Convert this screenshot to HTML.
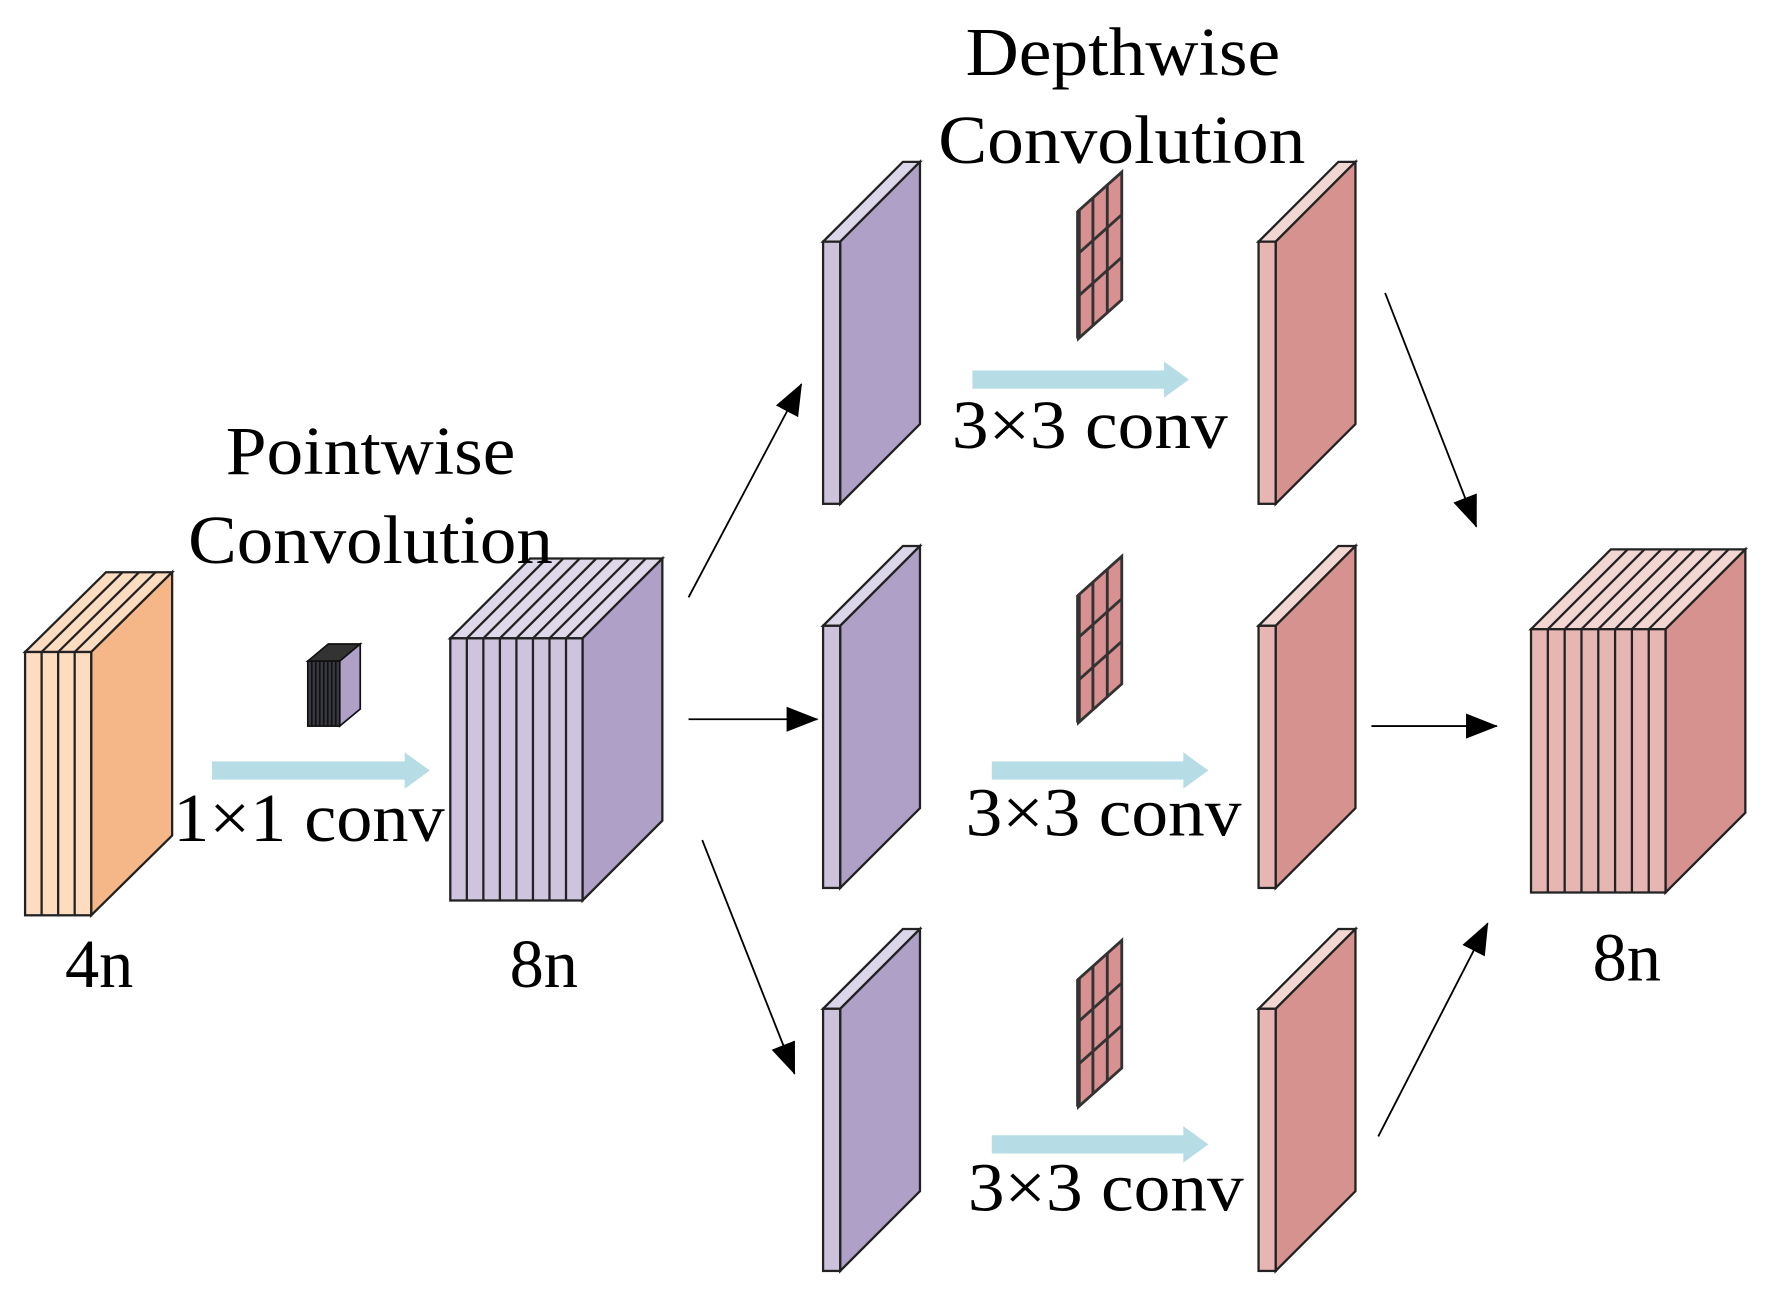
<!DOCTYPE html>
<html><head><meta charset="utf-8"><style>
html,body{margin:0;padding:0;background:#fff;}
svg{display:block;}
text{font-family:"Liberation Serif",serif;fill:#000;}
</style></head><body>
<svg width="1767" height="1304" viewBox="0 0 1550 1144" preserveAspectRatio="none" xmlns="http://www.w3.org/2000/svg">
<defs>
<marker id="ah" viewBox="0 0 10 10" refX="9" refY="5" markerWidth="10" markerHeight="10" markerUnits="userSpaceOnUse" orient="auto">
<path d="M0,0 L10,5 L0,10 z" fill="#000"/></marker>
<marker id="ah2" viewBox="0 0 28 22" refX="27" refY="11" markerWidth="28" markerHeight="22" markerUnits="userSpaceOnUse" orient="auto">
<path d="M0,0 L28,11 L0,22 z" fill="#000"/></marker>
<g id="grid" stroke="#333" stroke-width="2.5" fill="#D89090">
<polygon points="946,185 984,151 984,263 946,297"/>
<line x1="958.7" y1="173.6" x2="958.7" y2="285.6"/>
<line x1="971.3" y1="162.3" x2="971.3" y2="274.3"/>
<line x1="946" y1="222.3" x2="984" y2="188.3"/>
<line x1="946" y1="259.7" x2="984" y2="225.7"/>
<line x1="946" y1="185" x2="946" y2="297" stroke-width="4"/>
</g>
<g id="pslab" stroke="#222" stroke-width="2">
<polygon points="722,212 737,212 807,142 792,142" fill="#DCD6EA"/>
<polygon points="737,212 807,142 807,372 737,442" fill="#AFA0C7"/>
<rect x="722" y="212" width="15" height="230" fill="#CCC2DC"/>
</g>
<g id="rslab" stroke="#222" stroke-width="2">
<polygon points="1104,212 1119,212 1189,142 1174,142" fill="#F2D6D2"/>
<polygon points="1119,212 1189,142 1189,372 1119,442" fill="#D6928E"/>
<rect x="1104" y="212" width="15" height="230" fill="#E7B6B3"/>
</g>
</defs>

<!-- 4n block -->
<g stroke="#222" stroke-width="2">
<polygon points="22,572 80,572 151,502 93,502" fill="#FDDCC0"/>
<polygon points="80,572 151,502 151,733 80,803" fill="#F6B788"/>
<rect x="22" y="572" width="58" height="231" fill="#FDDCC0"/>
<line x1="36.5" y1="572" x2="36.5" y2="803"/><line x1="51" y1="572" x2="51" y2="803"/><line x1="65.5" y1="572" x2="65.5" y2="803"/>
<line x1="36.5" y1="572" x2="107.5" y2="502"/><line x1="51" y1="572" x2="122" y2="502"/><line x1="65.5" y1="572" x2="136.5" y2="502"/>
</g>

<!-- small kernel -->
<g stroke="#111" stroke-width="1.5">
<polygon points="270,580 298,580 316,565 288,565" fill="#333"/>
<polygon points="298,580 316,565 316,622 298,637" fill="#AFA0C7"/>
<rect x="270" y="580" width="28" height="57" fill="#3a3a44"/>
<line x1="273.5" y1="580" x2="273.5" y2="637"/><line x1="277" y1="580" x2="277" y2="637"/><line x1="280.5" y1="580" x2="280.5" y2="637"/><line x1="284" y1="580" x2="284" y2="637"/><line x1="287.5" y1="580" x2="287.5" y2="637"/><line x1="291" y1="580" x2="291" y2="637"/><line x1="294.5" y1="580" x2="294.5" y2="637"/>
</g>

<!-- 8n block -->
<g stroke="#222" stroke-width="2">
<polygon points="395,560 511,560 581,490 465,490" fill="#DED8EA"/>
<polygon points="511,560 581,490 581,720 511,790" fill="#AFA0C7"/>
<rect x="395" y="560" width="116" height="230" fill="#CEC4DE"/>
<line x1="409.5" y1="560" x2="409.5" y2="790"/><line x1="424" y1="560" x2="424" y2="790"/><line x1="438.5" y1="560" x2="438.5" y2="790"/><line x1="453" y1="560" x2="453" y2="790"/><line x1="467.5" y1="560" x2="467.5" y2="790"/><line x1="482" y1="560" x2="482" y2="790"/><line x1="496.5" y1="560" x2="496.5" y2="790"/>
<line x1="409.5" y1="560" x2="479.5" y2="490"/><line x1="424" y1="560" x2="494" y2="490"/><line x1="438.5" y1="560" x2="508.5" y2="490"/><line x1="453" y1="560" x2="523" y2="490"/><line x1="467.5" y1="560" x2="537.5" y2="490"/><line x1="482" y1="560" x2="552" y2="490"/><line x1="496.5" y1="560" x2="566.5" y2="490"/>
</g>

<!-- output block -->
<g stroke="#222" stroke-width="2">
<polygon points="1343,552 1461,552 1531,482 1413,482" fill="#F2D6D2"/>
<polygon points="1461,552 1531,482 1531,713 1461,783" fill="#D6928E"/>
<rect x="1343" y="552" width="118" height="231" fill="#E6B6B3"/>
<line x1="1357.75" y1="552" x2="1357.75" y2="783"/><line x1="1372.5" y1="552" x2="1372.5" y2="783"/><line x1="1387.25" y1="552" x2="1387.25" y2="783"/><line x1="1402" y1="552" x2="1402" y2="783"/><line x1="1416.75" y1="552" x2="1416.75" y2="783"/><line x1="1431.5" y1="552" x2="1431.5" y2="783"/><line x1="1446.25" y1="552" x2="1446.25" y2="783"/>
<line x1="1357.75" y1="552" x2="1427.75" y2="482"/><line x1="1372.5" y1="552" x2="1442.5" y2="482"/><line x1="1387.25" y1="552" x2="1457.25" y2="482"/><line x1="1402" y1="552" x2="1472" y2="482"/><line x1="1416.75" y1="552" x2="1486.75" y2="482"/><line x1="1431.5" y1="552" x2="1501.5" y2="482"/><line x1="1446.25" y1="552" x2="1516.25" y2="482"/>
</g>

<!-- slabs -->
<use href="#pslab"/><use href="#pslab" transform="translate(0,337)"/><use href="#pslab" transform="translate(0,673)"/>
<use href="#rslab"/><use href="#rslab" transform="translate(0,337)"/><use href="#rslab" transform="translate(0,673)"/>
<use href="#grid"/><use href="#grid" transform="translate(0,337)"/><use href="#grid" transform="translate(0,674)"/>

<!-- cyan arrows -->
<g fill="#B6DDE6">
<polygon points="186,668 355,668 355,660 377,676 355,692 355,684 186,684"/>
<polygon points="853,325 1021,325 1021,317 1043,333 1021,349 1021,341 853,341"/>
<polygon points="870,668 1038,668 1038,660 1060,676 1038,692 1038,684 870,684"/>
<polygon points="870,996 1038,996 1038,988 1060,1004 1038,1020 1038,1012 870,1012"/>
</g>

<!-- black arrows -->
<g stroke="#000" stroke-width="1.6" fill="none">
<line x1="604" y1="524" x2="703" y2="337" marker-end="url(#ah2)"/>
<line x1="604" y1="631" x2="717" y2="631" marker-end="url(#ah2)"/>
<line x1="616" y1="737" x2="697" y2="942" marker-end="url(#ah2)"/>
<line x1="1215" y1="257" x2="1295" y2="462" marker-end="url(#ah2)"/>
<line x1="1203" y1="637" x2="1313" y2="637" marker-end="url(#ah2)"/>
<line x1="1209" y1="997" x2="1305" y2="810" marker-end="url(#ah2)"/>
</g>

<!-- text -->
<g font-size="60">
<text x="325" y="416" text-anchor="middle" textLength="254" lengthAdjust="spacingAndGlyphs">Pointwise</text>
<text x="165" y="494" textLength="320" lengthAdjust="spacingAndGlyphs">Convolution</text>
<text x="985" y="66" text-anchor="middle" textLength="276" lengthAdjust="spacingAndGlyphs">Depthwise</text>
<text x="823" y="143" textLength="322" lengthAdjust="spacingAndGlyphs">Convolution</text>
<text x="152" y="738" textLength="238" lengthAdjust="spacingAndGlyphs">1×1 conv</text>
<text x="835" y="393" textLength="242" lengthAdjust="spacingAndGlyphs">3×3 conv</text>
<text x="847" y="733" textLength="242" lengthAdjust="spacingAndGlyphs">3×3 conv</text>
<text x="849" y="1062" textLength="242" lengthAdjust="spacingAndGlyphs">3×3 conv</text>
<text x="87" y="866" text-anchor="middle">4n</text>
<text x="477" y="866" text-anchor="middle">8n</text>
<text x="1427" y="860" text-anchor="middle">8n</text>
</g>
</svg>
</body></html>
